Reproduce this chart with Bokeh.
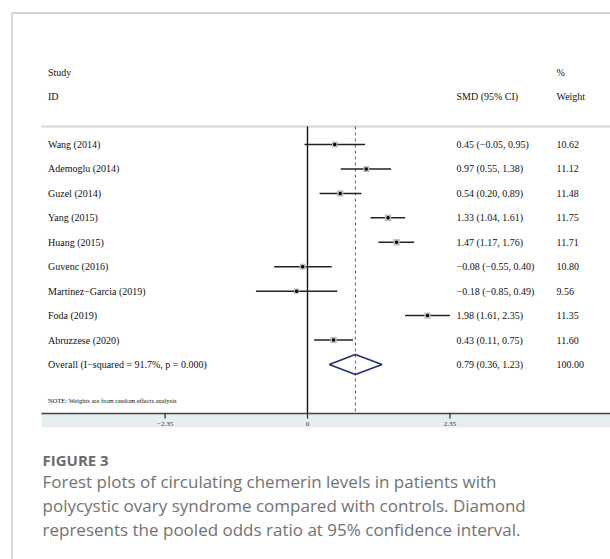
from bokeh.plotting import figure
from bokeh.models import Range1d, ColumnDataSource
from bokeh.core.properties import value
from bokeh.embed import file_html
from bokeh.resources import INLINE

# ---------------- data ----------------
studies = ["Wang (2014)", "Ademoglu (2014)", "Guzel (2014)", "Yang (2015)",
           "Huang (2015)", "Guvenc (2016)", "Martinez\u2212Garcia (2019)",
           "Foda (2019)", "Abruzzese (2020)"]
smd = [0.45, 0.97, 0.54, 1.33, 1.47, -0.08, -0.18, 1.98, 0.43]
ci_low = [-0.05, 0.55, 0.20, 1.04, 1.17, -0.55, -0.85, 1.61, 0.11]
ci_high = [0.95, 1.38, 0.89, 1.61, 1.76, 0.40, 0.49, 2.35, 0.75]
weights = [10.62, 11.12, 11.48, 11.75, 11.71, 10.80, 9.56, 11.35, 11.60]

overall_label = "Overall  (I\u2212squared = 91.7%, p = 0.000)"
overall_smd = 0.79
overall_low = 0.36
overall_high = 1.23
overall_weight = 100.00

tick_values = [-2.35, 0, 2.35]
tick_labels = ["\u22122.35", "0", "2.35"]

caption_title = "FIGURE 3"
caption_lines = ["Forest plots of circulating chemerin levels in patients with",
                 "polycystic ovary syndrome compared with controls. Diamond",
                 "represents the pooled odds ratio at 95% confidence interval."]
note_text = "NOTE: Weights are from random effects analysis"

# ---------------- layout ----------------
W, H = 610, 559
M = 0
X0_PAGE, X_SCALE = 307.0, 60.6
ROW0_PAGE, ROW_STEP = 144.0, 24.44


def dx(px):
    return (px - X0_PAGE) / X_SCALE


def dy(py):
    return (py - ROW0_PAGE) / ROW_STEP


def fmt(v):
    s = f"{abs(v):.2f}"
    return ("\u2212" + s) if v < 0 else s


SERIF = value("Liberation Serif")
SANS = value("Open Sans")

p = figure(width=W, height=H,
           x_range=Range1d(dx(M), dx(M + W)),
           y_range=Range1d(dy(M + H), dy(M)),
           x_axis_type=None, y_axis_type=None,
           output_backend="svg", toolbar_location=None,
           min_border=0, outline_line_color=None,
           background_fill_color="white", border_fill_color="white")
p.grid.visible = False

right_edge = dx(M + W)
left_img = dx(41)
top_line = dy(126)
axis_y = dy(413)

# outer card border
p.segment(x0=[dx(11.5)], y0=[dy(12.5)], x1=[dx(11.5)], y1=[dy(M + H)],
          line_color="#c6c6c6", line_width=1.3)
p.segment(x0=[dx(11.5)], y0=[dy(12.5)], x1=[right_edge], y1=[dy(12.5)],
          line_color="#c6c6c6", line_width=1.3)

# header separator
p.segment(x0=[left_img], y0=[top_line], x1=[right_edge], y1=[top_line],
          line_color="#d6d6d6", line_width=2)

# axis band
p.quad(left=[left_img], right=[right_edge], top=[axis_y], bottom=[dy(427)],
       fill_color="#e6eef1", line_color=None)

# zero line and pooled estimate line
p.segment(x0=[0], y0=[top_line], x1=[0], y1=[axis_y],
          line_color="#111111", line_width=1.4)
p.segment(x0=[overall_smd], y0=[top_line], x1=[overall_smd], y1=[axis_y],
          line_color="#a8403c", line_width=1, line_dash="3 3")

# axis line and ticks
p.segment(x0=[left_img], y0=[axis_y], x1=[right_edge], y1=[axis_y],
          line_color="#444444", line_width=1.5)
p.segment(x0=tick_values, y0=[axis_y] * 3, x1=tick_values, y1=[dy(418)] * 3,
          line_color="#222222", line_width=1.2)
p.text(x=tick_values, y=[dy(423)] * 3, text=tick_labels,
       text_font=SERIF, text_font_size="7px", text_color="#333333",
       text_align="center", text_baseline="middle")

# study rows
rows = list(range(len(studies)))
src = ColumnDataSource(dict(
    y=rows, smd=smd, lo=ci_low, hi=ci_high, w=weights,
    size=[w * 0.55 for w in weights],
    label=studies,
    ci=[f"{fmt(a)} ({fmt(b)}, {fmt(c)})" for a, b, c in zip(smd, ci_low, ci_high)],
    wt=[f"{w:.2f}" for w in weights]))

p.segment(x0="lo", y0="y", x1="hi", y1="y", source=src,
          line_color="#222222", line_width=1.5)
p.scatter(x="smd", y="y", size="size", marker="square", source=src,
          fill_color="#bdbdbd", line_color=None)
p.scatter(x="smd", y="y", size=3.5, marker="circle", source=src,
          fill_color="#000000", line_color=None)

TXT = dict(text_font=SERIF, text_font_size="10px", text_color="#111111",
           text_baseline="middle", text_align="left")
p.text(x=dx(47.5), y="y", text="label", source=src, **TXT)
p.text(x=dx(456), y="y", text="ci", source=src, **TXT)
p.text(x=dx(556), y="y", text="wt", source=src, **TXT)

# overall row
orow = len(studies)
half_h = 10.0 / ROW_STEP
p.patch(x=[overall_low, overall_smd, overall_high, overall_smd, overall_low],
        y=[orow, orow - half_h, orow, orow + half_h, orow],
        fill_color=None, line_color="#22306a", line_width=1.5)
p.text(x=[dx(47.5)], y=[orow], text=[overall_label], **TXT)
p.text(x=[dx(456)], y=[orow],
       text=[f"{fmt(overall_smd)} ({fmt(overall_low)}, {fmt(overall_high)})"], **TXT)
p.text(x=[dx(556)], y=[orow], text=[f"{overall_weight:.2f}"], **TXT)

# headers
p.text(x=[dx(47.5), dx(556), dx(47.5), dx(456), dx(556)],
       y=[dy(72), dy(72), dy(96), dy(96), dy(96)],
       text=["Study", "%", "ID", "SMD (95% CI)", "Weight"], **TXT)

# note
p.text(x=[dx(47.5)], y=[dy(400)], text=[note_text], text_font=SERIF,
       text_font_size="6.5px", text_color="#111111", text_baseline="middle")

# caption
p.text(x=[dx(42)], y=[dy(459)], text=[caption_title], text_font=SANS,
       text_font_style="bold", text_font_size="15px", text_color="#6b6b6b",
       text_baseline="middle")
p.text(x=[dx(42)] * 3, y=[dy(481), dy(505), dy(529)], text=caption_lines,
       text_font=SANS, text_font_size="17px", text_color="#727272",
       text_baseline="middle")

open("out.html", "w").write(file_html(p, INLINE))
